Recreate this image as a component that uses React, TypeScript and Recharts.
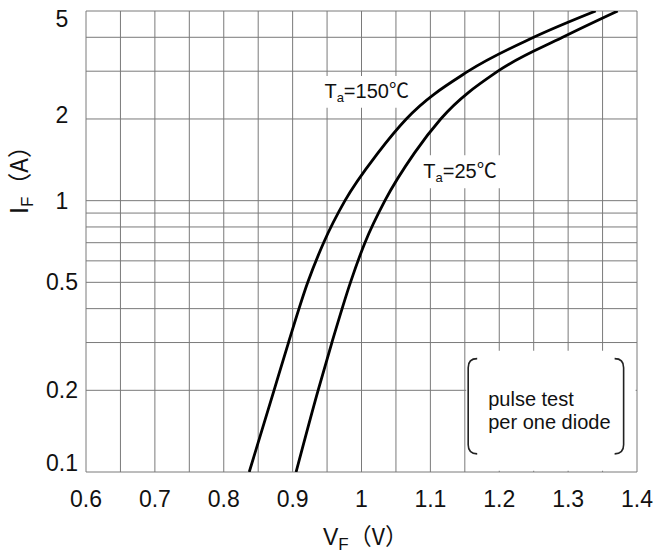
import { LineChart, Line, XAxis, YAxis, CartesianGrid, ReferenceArea, Label } from 'recharts';

// forward voltage (V) vs forward current (A)
const vf150 = [0.837, 0.873, 0.894, 0.922, 0.945, 0.976, 1.024, 1.065, 1.155, 1.25, 1.34];
const if150 = [0.1, 0.2, 0.3, 0.5, 0.7, 1.0, 1.5, 2.0, 3.0, 4.0, 5.0];

const vf25 = [0.905, 0.937, 0.957, 0.984, 1.005, 1.034, 1.077, 1.115, 1.198, 1.292, 1.372];
const if25 = [0.1, 0.2, 0.3, 0.5, 0.7, 1.0, 1.5, 2.0, 3.0, 4.0, 5.0];

const vfTicks = [0.6, 0.65, 0.7, 0.75, 0.8, 0.85, 0.9, 0.95, 1, 1.05, 1.1, 1.15, 1.2, 1.25, 1.3, 1.35, 1.4];
const vfLabels = [0.6, 0.7, 0.8, 0.9, 1, 1.1, 1.2, 1.3, 1.4];
const ifTicks = [0.1, 0.2, 0.3, 0.4, 0.5, 0.6, 0.7, 0.8, 0.9, 1, 2, 3, 4, 5];
const ifLabels = [0.1, 0.2, 0.5, 1, 2, 5];

const curve150 = vf150.map((v, k) => ({ v, i: if150[k] }));
const curve25 = vf25.map((v, k) => ({ v, i: if25[k] }));

const FONT = "'Liberation Sans', Arial, 'Noto Sans CJK SC', sans-serif";
const CJK = "'Noto Sans CJK SC', sans-serif";
const INK = '#111';

const hasLabel = (list: number[], value: number) => list.some((l) => Math.abs(l - value) < 1e-6);

function XTick({ x, y, payload }: any) {
  if (!hasLabel(vfLabels, payload.value)) return <g />;
  return (
    <text x={x} y={y} dy={27} textAnchor="middle" fontSize={23} fontFamily={FONT} fill={INK}>
      {String(Number(payload.value.toFixed(2)))}
    </text>
  );
}

function YTick({ x, y, payload }: any) {
  const value = payload.value;
  if (!hasLabel(ifLabels, value)) return <g />;
  // end labels sit inside the frame in the original
  let dy = 8;
  if (value === 0.1) dy = -1;
  if (value === 5) dy = 16;
  if (value === 2) dy = 4;
  return (
    <text x={x - 16} y={y} dy={dy} textAnchor="middle" fontSize={23} fontFamily={FONT} fill={INK}>
      {String(value)}
    </text>
  );
}

function YTitle({ viewBox }: any) {
  const cx = viewBox.x + 28;
  const cy = viewBox.y + 203;
  return (
    <text x={cx} y={cy} transform={`rotate(-90, ${cx}, ${cy})`} fontSize={25} fontFamily={FONT} fill={INK}>
      I<tspan dy={5} fontSize={17}>F</tspan>
      <tspan dy={-5} fontFamily={CJK} fontSize={24}>（A）</tspan>
    </text>
  );
}

function XTitle({ viewBox }: any) {
  const x = viewBox.x + 237;
  const y = viewBox.y + 73;
  return (
    <text x={x} y={y} fontSize={23} fontFamily={FONT} fill={INK}>
      V<tspan dy={5} fontSize={17}>F</tspan>
      <tspan dy={-5} fontFamily={CJK} fontSize={23}>（V）</tspan>
    </text>
  );
}

function TempLabel({ viewBox, temp }: any) {
  const cx = viewBox.x + viewBox.width / 2;
  const cy = viewBox.y + viewBox.height / 2 + 6;
  return (
    <text x={cx} y={cy} textAnchor="middle" fontSize={20} fontFamily={FONT} fill={INK}>
      T<tspan dy={4} fontSize={13}>a</tspan>
      <tspan dy={-4}>={temp}℃</tspan>
    </text>
  );
}

function NoteLabel({ viewBox }: any) {
  const { x, y, width, height } = viewBox;
  const left = x + 2;
  const right = x + width - 12;
  const top = y + 8;
  const bottom = y + height - 17;
  const hook = 9;
  return (
    <g fill="none" stroke="#222" strokeWidth={1.6}>
      <path d={`M ${left + hook} ${top} Q ${left} ${top} ${left} ${top + hook} L ${left} ${bottom - hook} Q ${left} ${bottom} ${left + hook} ${bottom}`} />
      <path d={`M ${right - hook} ${top} Q ${right} ${top} ${right} ${top + hook} L ${right} ${bottom - hook} Q ${right} ${bottom} ${right - hook} ${bottom}`} />
      <text x={left + 20} y={y + 55} fontSize={20} fontFamily={FONT} fill={INK} stroke="none">
        pulse test
      </text>
      <text x={left + 20} y={y + 78} fontSize={20} fontFamily={FONT} fill={INK} stroke="none">
        per one diode
      </text>
    </g>
  );
}

export default function App() {
  return (
    <div style={{ position: 'absolute', left: 0, top: 0, background: '#fff' }}>
      <LineChart width={660} height={555} margin={{ top: 11, right: 23, bottom: 23, left: 0 }}>
        <CartesianGrid stroke="#7a7a7a" strokeWidth={1} />
        <XAxis
          dataKey="v"
          type="number"
          domain={[0.6, 1.4]}
          ticks={vfTicks}
          interval={0}
          height={60}
          axisLine={false}
          tickLine={false}
          tick={XTick}
          allowDataOverflow
        >
          <Label content={XTitle} />
        </XAxis>
        <YAxis
          dataKey="i"
          type="number"
          scale="log"
          domain={[0.1, 5]}
          ticks={ifTicks}
          interval={0}
          width={86}
          axisLine={false}
          tickLine={false}
          tick={YTick}
          allowDataOverflow
        >
          <Label content={YTitle} />
        </YAxis>
        <ReferenceArea
          x1={0.93}
          x2={1.085}
          y1={2.2}
          y2={2.88}
          fill="#fff"
          fillOpacity={1}
          stroke="none"
          label={(p: any) => <TempLabel {...p} temp="150" />}
        />
        <ReferenceArea
          x1={1.079}
          x2={1.207}
          y1={1.11}
          y2={1.47}
          fill="#fff"
          fillOpacity={1}
          stroke="none"
          label={(p: any) => <TempLabel {...p} temp="25" />}
        />
        <ReferenceArea
          x1={1.152}
          x2={1.398}
          y1={0.101}
          y2={0.28}
          fill="#fff"
          fillOpacity={1}
          stroke="none"
          label={(p: any) => <NoteLabel {...p} />}
        />
        <Line data={curve150} dataKey="i" type="monotone" stroke="#000" strokeWidth={2.8} dot={false} isAnimationActive={false} />
        <Line data={curve25} dataKey="i" type="monotone" stroke="#000" strokeWidth={2.8} dot={false} isAnimationActive={false} />
      </LineChart>
    </div>
  );
}
